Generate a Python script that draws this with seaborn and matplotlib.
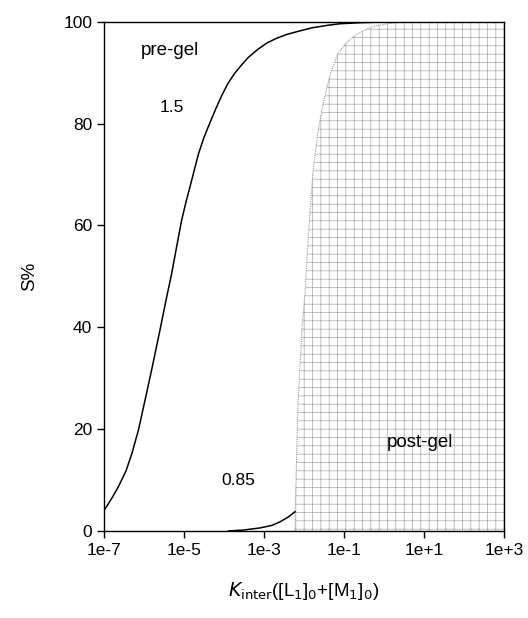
import numpy as np
import pandas as pd
import matplotlib
matplotlib.use("Agg")
import matplotlib.pyplot as plt
import seaborn as sns

# curve "1.5" (log10 x, S%)
logx_15 = [-7.0, -6.8, -6.64, -6.45, -6.3, -6.14, -5.98, -5.81, -5.6, -5.45, -5.31, -5.18,
           -5.06, -4.95, -4.85, -4.64, -4.5, -4.35, -4.2, -4.05, -3.9, -3.73, -3.55,
           -3.39, -3.15, -2.93, -2.7, -2.43, -2.1, -1.8, -1.4, -1.1, -0.6, -0.2, 0.4, 1.0]
s_15 = [4.0, 6.5, 8.7, 11.8, 15.3, 19.8, 25.5, 31.6, 39.5, 45.3, 50.5, 56.0,
        61.0, 64.6, 67.6, 74.0, 77.3, 80.2, 83.0, 85.6, 87.9, 89.9, 91.6,
        93.0, 94.6, 95.8, 96.7, 97.5, 98.2, 98.8, 99.3, 99.6, 99.8, 99.9, 100.0, 100.0]

# curve "0.85" (up to the gel point)
logx_085 = [-3.9, -3.5, -3.1, -2.8, -2.6, -2.4, -2.22]
s_085 = [0.0, 0.2, 0.6, 1.1, 1.8, 2.7, 3.8]

# gel boundary (left edge of post-gel region)
logx_gel = [-2.22, -2.22, -2.2, -2.15, -2.05, -1.97, -1.9, -1.77, -1.65, -1.52, -1.35,
            -1.15, -0.95, -0.78, -0.5, -0.28, 0.07, 0.5]
s_gel = [0.0, 3.8, 10.0, 25.0, 40.0, 47.0, 57.0, 71.0, 78.5, 84.0, 89.5,
         93.8, 95.8, 97.0, 98.3, 99.0, 99.6, 100.0]

xtick_vals = [1e-7, 1e-5, 1e-3, 1e-1, 1e1, 1e3]
xtick_labels = ["1e-7", "1e-5", "1e-3", "1e-1", "1e+1", "1e+3"]
ytick_vals = [0, 20, 40, 60, 80, 100]

sns.set_style("ticks")
plt.rcParams["font.family"] = ["Liberation Sans", "DejaVu Sans"]
plt.rcParams["hatch.linewidth"] = 0.5
for k in ["text.color", "axes.labelcolor", "xtick.color", "ytick.color"]:
    plt.rcParams[k] = "black"

fig = plt.figure(figsize=(5.28, 6.18), dpi=100)
ax = fig.add_axes([0.197, 0.1408, 0.7575, 0.8241])

gel_x = 10 ** np.array(logx_gel)
ax.fill_betweenx(s_gel, gel_x, 1e3, facecolor="white", edgecolor="#a8a8a8",
                 hatch="++", linewidth=0.0, zorder=1)
ax.plot(gel_x, s_gel, color="#9a9a9a", lw=0.8, ls=(0, (1, 1)), zorder=1.5)

df15 = pd.DataFrame({"x": 10 ** np.array(logx_15), "S": s_15})
df085 = pd.DataFrame({"x": 10 ** np.array(logx_085), "S": s_085})
sns.lineplot(data=df15, x="x", y="S", ax=ax, color="black", lw=1.1, sort=False, zorder=3)
sns.lineplot(data=df085, x="x", y="S", ax=ax, color="black", lw=1.1, sort=False, zorder=3)

ax.set_xscale("log")
ax.set_xlim(1e-7, 1e3)
ax.set_ylim(0, 100)
ax.set_xticks(xtick_vals)
ax.set_xticklabels(xtick_labels)
ax.xaxis.set_minor_locator(matplotlib.ticker.NullLocator())
ax.set_yticks(ytick_vals)
ax.tick_params(axis="both", labelsize=12.5, length=5, width=1, color="black",
               labelcolor="black", direction="out")

for sp in ax.spines.values():
    sp.set_visible(True)
    sp.set_color("black")
    sp.set_linewidth(1.0)

ax.set_ylabel("S%", fontsize=13.5, labelpad=18)
ax.set_xlabel(r"$K$$_{\mathrm{inter}}$([L$_1$]$_0$+[M$_1$]$_0$)", fontsize=13.5, labelpad=16)

ax.text(10 ** -5.35, 94.4, "pre-gel", fontsize=13.5, ha="center", va="center")
ax.text(10 ** -5.3, 83.2, "1.5", fontsize=12.5, ha="center", va="center")
ax.text(10 ** -3.65, 10.0, "0.85", fontsize=12.5, ha="center", va="center")
ax.text(10 ** 0.9, 17.3, "post-gel", fontsize=13.5, ha="center", va="center")

fig.savefig("out.png", dpi=100)
